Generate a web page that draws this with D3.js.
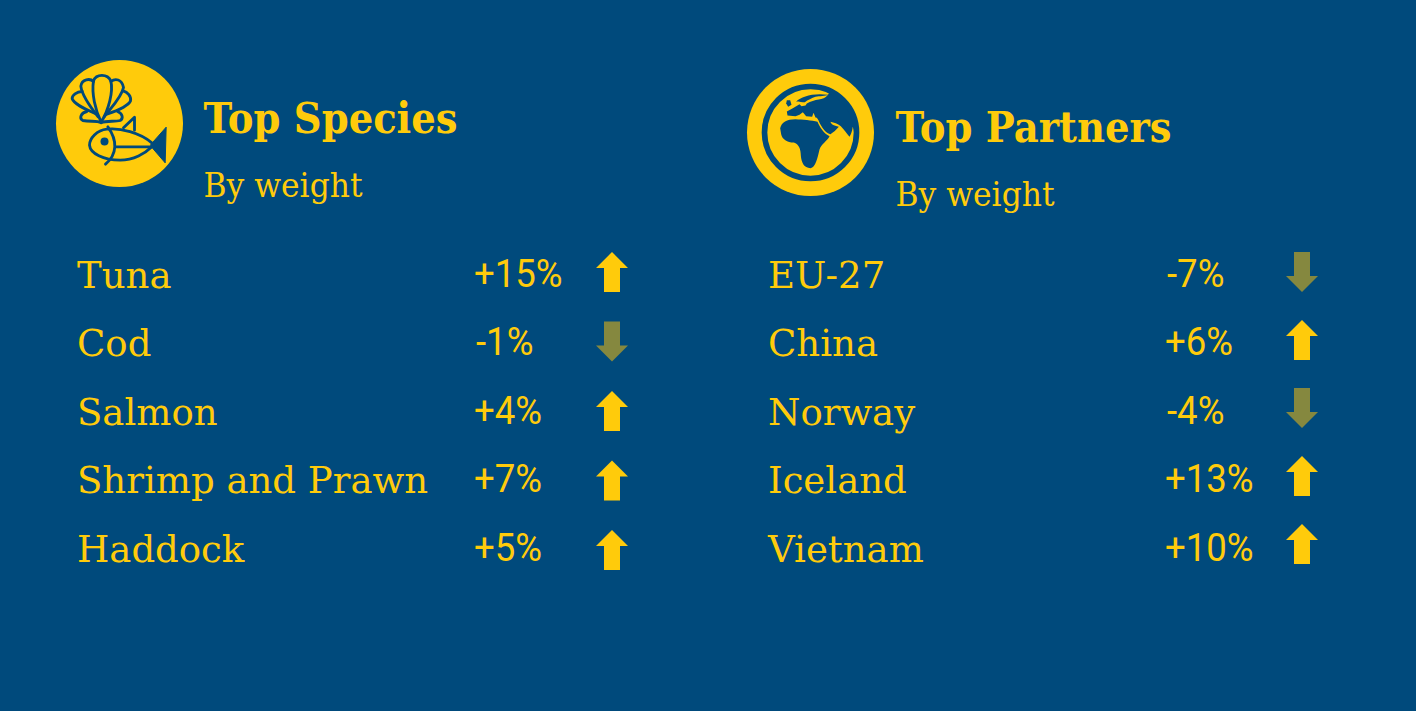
<!DOCTYPE html>
<html><head><meta charset="utf-8">
<script src="https://cdn.jsdelivr.net/npm/d3@7/dist/d3.min.js"></script>
<style>html,body{margin:0;padding:0;background:#004a7c;overflow:hidden}
text{font-family:"DejaVu Serif",serif}
text.val{font-family:Roboto,sans-serif}</style>
</head><body><svg id="c" width="1416" height="711"></svg>
<script>
const speciesNames = ["Tuna","Cod","Salmon","Shrimp and Prawn","Haddock"];
const speciesChange = [15,-1,4,7,5];
const partnerNames = ["EU-27","China","Norway","Iceland","Vietnam"];
const partnerChange = [-7,6,-4,13,10];
const titles = ["Top Species","Top Partners"];
const subtitle = "By weight";

const YEL="#ffcb0b", BG="#004a7c", OLIVE="#85883f";
const svg=d3.select("#c");
svg.append("rect").attr("width",1416).attr("height",711).attr("fill",BG);
const fmt=d3.format("+d");

function panel(o){
  const g=svg.append("g");
  const rows=d3.scalePoint().domain(o.names).range([287.5,561.5]);
  const arrows=d3.scalePoint().domain(o.names).range(o.arrowRange);
  g.append("circle").attr("cx",o.cx).attr("cy",o.cy).attr("r",63.5).attr("fill",YEL);
  o.icon(g.append("g").attr("transform",`translate(${o.cx},${o.cy}) scale(${1/3})`));
  g.append("text").attr("x",o.tx).attr("y",o.cy+9).attr("fill",YEL)
    .attr("font-size",o.titleSize).attr("font-weight",700).attr("textLength",o.titleLen).attr("lengthAdjust","spacingAndGlyphs").text(o.title);
  g.append("text").attr("x",o.tx).attr("y",o.cy+73).attr("fill",YEL)
    .attr("font-size",33).attr("textLength",159).attr("lengthAdjust","spacingAndGlyphs").text(subtitle);
  const r=g.selectAll("g.row").data(o.names.map((n,i)=>({n,v:o.vals[i]}))).join("g").attr("class","row");
  r.append("text").attr("transform",d=>`translate(${o.nx},${rows(d.n)}) scale(.975,1)`).attr("fill",YEL).attr("font-size",38).text(d=>d.n);
  r.append("text").attr("class","val").attr("transform",d=>`translate(${d.v<0?o.vx+2:o.vx},${rows(d.n)-1}) scale(.95,1)`).attr("fill",YEL).attr("font-size",38.5)
    .text(d=>(d.v<0?"-"+Math.abs(d.v):fmt(d.v))+"%");
  r.append("path").attr("d","M0 -20L16 -4H8V20H-8V-4H-16Z")
    .attr("fill",d=>d.v<0?OLIVE:YEL)
    .attr("transform",d=>`translate(${o.ax},${arrows(d.n)}) rotate(${d.v<0?180:0})`);
}

function shellFish(g){
  g=g.append("g").attr("transform","translate(-238,-220)");
  const s=g.append("g").attr("fill","none").attr("stroke",BG).attr("stroke-width",8.5).attr("stroke-linecap","round").attr("stroke-linejoin","round");
  ["M183 216C165 180 154 130 160 92C168 70 202 70 212 92C220 125 205 180 183 216",
   "M174 200C150 170 125 135 122 108C125 86 150 84 160 94",
   "M192 200C215 170 245 140 250 112C245 86 225 84 212 94",
   "M126 124C110 124 95 135 96 146C102 162 130 175 165 190",
   "M249 122C262 125 274 140 271 152C265 166 235 180 200 192",
   "M140 184C122 188 116 205 128 211C150 216 170 210 183 218C198 210 225 216 240 211C250 205 248 190 232 184",
   "M335 278C300 248 240 232 200 237C170 240 148 265 148 285C150 310 190 330 240 330C280 330 315 310 335 290",
   "M203 230C232 270 232 312 196 342",
   "M226 290H335",
   "M250 233L283 201V240"].forEach(d=>s.append("path").attr("d",d));
  g.append("circle").attr("cx",193).attr("cy",274).attr("r",12).attr("fill",BG);
  g.append("path").attr("d","M332 283L378 231L375 338L332 288Z").attr("fill",BG).attr("stroke",BG).attr("stroke-width",3).attr("stroke-linejoin","round");
}

function globe(g){
  const l=g.append("g").attr("transform","translate(-145,-145)").attr("fill",BG);
  l.append("path").attr("d","M196 33L205 22A135 135 0 0 1 281 150L272 128C270 142 266 152 262 158C255 150 246 136 236 126C226 119 216 115 205 113C206 120 214 124 230 128C222 138 212 146 205 150C194 150 180 132 172 116C168 106 166 100 160 100L154 86L150 98L132 96L122 84L112 92L100 96L76 94L74 82L92 72L112 60L118 66L130 64L134 58C145 52 158 48 170 46C180 44 190 42 196 33Z");
  l.append("path").attr("d","M102 52C118 38 150 26 198 32C190 36 172 36 160 38C150 42 136 48 128 54C120 54 112 54 102 52Z");
  l.append("path").attr("d","M54 132C58 114 74 105 100 105C120 106 150 108 166 113C172 128 186 150 202 156C196 170 176 180 172 196C166 222 160 250 145 252C125 252 118 235 116 215C116 195 110 180 95 175C75 175 60 165 57 150Z");
  l.append("path").attr("d","M74 48L84 48L88 62L78 68L72 58Z");
  g.append("circle").attr("r",138).attr("fill","none").attr("stroke",BG).attr("stroke-width",17);
}

panel({names:speciesNames,vals:speciesChange,title:titles[0],cx:119.5,cy:123.5,tx:203.5,titleSize:42,titleLen:254,nx:77,vx:474,ax:612,arrowRange:[272,550],icon:shellFish});
panel({names:partnerNames,vals:partnerChange,title:titles[1],cx:810.5,cy:132.5,tx:895.5,titleSize:42,titleLen:276,nx:768,vx:1165,ax:1302,arrowRange:[272,544],icon:globe});
</script></body></html>
